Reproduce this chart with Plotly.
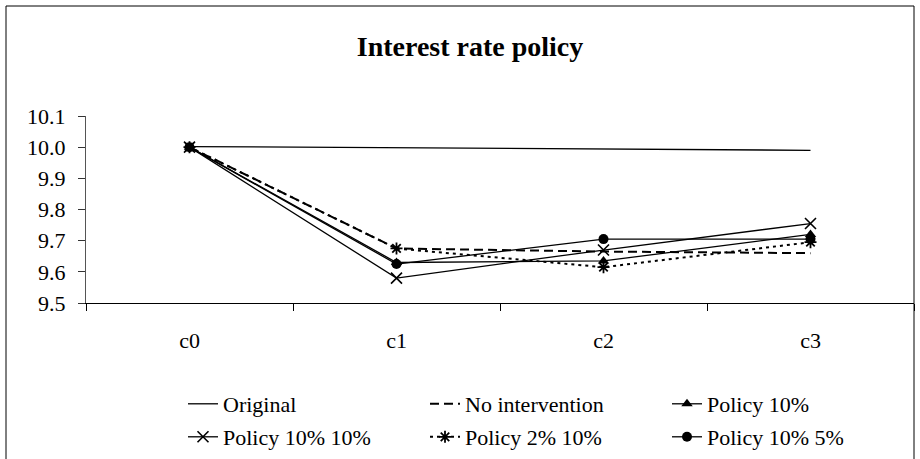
import plotly.graph_objects as go

categories = ["c0", "c1", "c2", "c3"]
original = [10.002, 9.998, 9.994, 9.99]
no_intervention = [10.00, 9.675, 9.665, 9.66]
policy_10 = [10.00, 9.63, 9.635, 9.72]
policy_10_10 = [10.00, 9.58, 9.67, 9.755]
policy_2_10 = [10.00, 9.675, 9.615, 9.695]
policy_10_5 = [10.00, 9.625, 9.705, 9.705]
y_ticks = [9.5, 9.6, 9.7, 9.8, 9.9, 10.0, 10.1]

FONT = "Liberation Serif"

# plot area in pixels: x 86..914, y 116..303
L, R, T, B = 86, 6, 116, 156
pw = 920 - L - R
ph = 459 - T - B


def px_to_paper_x(px):
    return (px - L) / pw


def px_to_paper_y(py):
    return (459 - B - py) / ph


fig = go.Figure()
fig.add_trace(go.Scatter(x=categories, y=original, name="Original", mode="lines",
                         legend="legend",
                         line=dict(color="black", width=1.3)))
fig.add_trace(go.Scatter(x=categories, y=no_intervention, name="No intervention", mode="lines",
                         legend="legend",
                         line=dict(color="black", width=2, dash="9px,5px")))
fig.add_trace(go.Scatter(x=categories, y=policy_10, name="Policy 10%", mode="lines+markers",
                         legend="legend",
                         line=dict(color="black", width=1.3),
                         marker=dict(symbol="triangle-up", size=10, color="black")))
fig.add_trace(go.Scatter(x=categories, y=policy_10_10, name="Policy 10% 10%", mode="lines+markers",
                         legend="legend2",
                         line=dict(color="black", width=1.3),
                         marker=dict(symbol="x-thin", size=11, color="black",
                                     line=dict(color="black", width=1.6))))
fig.add_trace(go.Scatter(x=categories, y=policy_2_10, name="Policy 2% 10%", mode="lines+markers",
                         legend="legend2",
                         line=dict(color="black", width=2, dash="3px,4px"),
                         marker=dict(symbol="asterisk", size=10, color="black",
                                     line=dict(color="black", width=1.8))))
fig.add_trace(go.Scatter(x=categories, y=policy_10_5, name="Policy 10% 5%", mode="lines+markers",
                         legend="legend2",
                         line=dict(color="black", width=1.3),
                         marker=dict(symbol="circle", size=10, color="black")))

legend_common = dict(orientation="h", xanchor="left", yanchor="middle",
                     entrywidth=197, entrywidthmode="pixels",
                     font=dict(family=FONT, size=22, color="black"),
                     bgcolor="rgba(0,0,0,0)", traceorder="normal")

fig.update_layout(
    width=920, height=459,
    margin=dict(l=L, r=R, t=T, b=B, autoexpand=False),
    paper_bgcolor="white", plot_bgcolor="white",
    font=dict(family=FONT, size=22, color="black"),
    title=dict(text="<b>Interest rate policy</b>", x=470 / 920, xanchor="center",
               y=1 - 46 / 459, yanchor="middle", yref="container",
               font=dict(family=FONT, size=28, color="black")),
    showlegend=True,
    legend=dict(x=px_to_paper_x(183), y=px_to_paper_y(404), **legend_common),
    legend2=dict(x=px_to_paper_x(183), y=px_to_paper_y(437), **legend_common),
    shapes=[dict(type="rect", xref="paper", yref="paper",
                 x0=px_to_paper_x(6), x1=px_to_paper_x(914),
                 y0=px_to_paper_y(480), y1=px_to_paper_y(6),
                 line=dict(color="black", width=1), fillcolor="rgba(0,0,0,0)",
                 layer="below")],
)

fig.update_xaxes(
    type="category", range=[-0.5, 3.5], showgrid=False, zeroline=False,
    showline=True, linecolor="black", linewidth=1,
    ticks="outside", ticklen=7, tickcolor="black", tickwidth=1,
    tickson="boundaries", ticklabelstandoff=18,
    tickfont=dict(family=FONT, size=22, color="black"),
)
fig.update_yaxes(
    range=[9.5, 10.1], tickvals=y_ticks, ticktext=[f"{v:.1f}" for v in y_ticks],
    showgrid=False, zeroline=False,
    showline=True, linecolor="#555555", linewidth=1,
    ticks="outside", ticklen=7, tickcolor="#333333", tickwidth=1,
    ticklabelstandoff=8,
    tickfont=dict(family=FONT, size=22, color="black"),
)

fig.write_html("out.html",
               config={"displayModeBar": False},
               post_script="document.body.style.margin='0';document.body.style.overflow='hidden';")
